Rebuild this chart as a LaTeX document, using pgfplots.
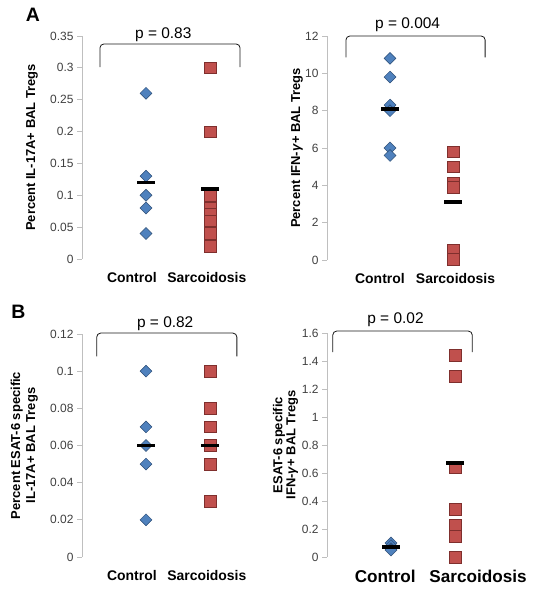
\documentclass[border=0pt]{standalone}
\usepackage{fontspec}
\setmainfont{Liberation Sans}
\usepackage{pgfplots}
\pgfplotsset{compat=1.18}
\definecolor{dblue}{HTML}{4F81BD}
\definecolor{dblueE}{HTML}{2C4D75}
\definecolor{dred}{HTML}{C0504D}
\definecolor{dredE}{HTML}{7F2F2D}
\definecolor{axgray}{HTML}{BFBFBF}
\definecolor{tickgray}{HTML}{404040}
\pgfplotsset{
  panel/.style={
    scale only axis, anchor=south west, clip=false,
    xmin=0, xmax=3, ymin=0,
    axis y line*=left,
    axis x line*=bottom,
    x axis line style={draw=none},
    y axis line style={-, draw=axgray, line width=0.7bp},
    xtick style={draw=none},
    ytick style={draw=axgray, line width=0.7bp},
    tick align=outside,
    major tick length=5bp,
    scaled y ticks=false,
    /pgf/number format/.cd, fixed, precision=3, assume math mode=true, /pgfplots/.cd,
    yticklabel style={font=\fontsize{12}{12}\selectfont, text=tickgray},
    xticklabel style={font=\bfseries\fontsize{14}{14}\selectfont, anchor=north, yshift=-4.5bp},
    every axis y label/.style={at={(axis description cs:-0.26,0.5)}, anchor=center, rotate=90,
      align=center, font=\bfseries\fontsize{13}{15}\selectfont},
  },
  ctrl/.style={only marks, mark=square*, mark size=4.2bp,
    mark options={rotate=45, fill=dblue, draw=dblueE, line width=0.5bp}},
  sarc/.style={only marks, mark=square*, mark size=5.8bp,
    mark options={fill=dred, draw=dredE, line width=0.5bp}},
  meanbar/.style={only marks, mark=-, mark size=8.7bp,
    mark options={line width=3.6bp, draw=black}},
}
\newcommand{\bracket}[4]{\draw[black!90, line width=0.8bp, rounded corners=4bp]
  (axis cs:#1,#4) -- (axis cs:#1,#3) -- (axis cs:#2,#3) -- (axis cs:#2,#4);}
\begin{document}
\begin{tikzpicture}[x=1bp,y=1bp]
\path[use as bounding box] (0,0) rectangle (534,601);
\node[font=\bfseries\fontsize{19.5}{20}\selectfont] at (33,586) {A};
\node[font=\bfseries\fontsize{19.5}{20}\selectfont] at (18.5,289.5) {B};

% A left
\begin{axis}[panel, at={(82bp,342bp)}, width=192bp, height=223bp, ymax=0.35,
  ytick={0,0.05,0.1,0.15,0.2,0.25,0.3,0.35},
  xtick={0.78,1.95}, xticklabels={Control,Sarcoidosis},
  ylabel={Percent IL-17A+ BAL Tregs}]
\addplot[ctrl] coordinates {(1,0.26) (1,0.13) (1,0.10) (1,0.08) (1,0.04)};
\addplot[sarc] coordinates {(2,0.30) (2,0.20) (2,0.10) (2,0.08) (2,0.07) (2,0.06) (2,0.04) (2,0.02)};
\addplot[meanbar] coordinates {(1,0.12) (2,0.11)};
\bracket{0.28}{2.47}{0.3375}{0.301}
\node[font=\fontsize{15.5}{16}\selectfont] at (axis cs:1.27,0.3527) {p = 0.83};
\end{axis}

% A right
\begin{axis}[panel, at={(327bp,341bp)}, width=189bp, height=224bp, ymax=12,
  ytick={0,2,4,6,8,10,12},
  xtick={0.84,2.04}, xticklabels={Control,Sarcoidosis},
  every axis y label/.append style={at={(axis description cs:-0.159,0.5)}},
  ylabel={Percent IFN-\textit{γ}+ BAL Tregs}]
\addplot[ctrl] coordinates {(1,10.8) (1,9.8) (1,8.3) (1,8.0) (1,6.0) (1,5.6)};
\addplot[sarc] coordinates {(2,5.8) (2,5.0) (2,4.1) (2,3.9) (2,0.55) (2,0.05)};
\addplot[meanbar] coordinates {(1,8.1) (2,3.1)};
\bracket{0.30}{2.51}{12.0}{10.86}
\node[font=\fontsize{15.5}{16}\selectfont] at (axis cs:1.28,12.59) {p = 0.004};
\end{axis}

% B left
\begin{axis}[panel, at={(82bp,44bp)}, width=192bp, height=223bp, ymax=0.12,
  ytick={0,0.02,0.04,0.06,0.08,0.1,0.12},
  xtick={0.78,1.95}, xticklabels={Control,Sarcoidosis},
  every axis y label/.append style={at={(axis description cs:-0.30,0.5)}},
  ylabel={Percent ESAT-6 specific\\IL-17A+ BAL Tregs}]
\addplot[ctrl] coordinates {(1,0.10) (1,0.07) (1,0.06) (1,0.05) (1,0.02)};
\addplot[sarc] coordinates {(2,0.10) (2,0.08) (2,0.07) (2,0.06) (2,0.05) (2,0.03)};
\addplot[meanbar] coordinates {(1,0.06) (2,0.06)};
\bracket{0.23}{2.42}{0.1205}{0.108}
\node[font=\fontsize{15.5}{16}\selectfont] at (axis cs:1.30,0.1258) {p = 0.82};
\end{axis}

% B right
\begin{axis}[panel, at={(327bp,44bp)}, width=192bp, height=224bp, ymax=1.6,
  ytick={0,0.2,0.4,0.6,0.8,1,1.2,1.4,1.6},
  xtick={0.91,2.36}, xticklabels={Control,Sarcoidosis},
  xticklabel style={font=\bfseries\fontsize{17.2}{17}\selectfont},
  every axis y label/.append style={at={(axis description cs:-0.216,0.5)}, font=\bfseries\fontsize{13}{13}\selectfont},
  ylabel={ESAT-6 specific\\IFN-\textit{γ}+ BAL Tregs}]
\addplot[ctrl] coordinates {(1,0.10) (1,0.08) (1,0.06) (1,0.05)};
\addplot[sarc] coordinates {(2,1.44) (2,1.29) (2,0.64) (2,0.34) (2,0.23) (2,0.15) (2,0.0)};
\addplot[meanbar] coordinates {(1,0.07) (2,0.67)};
\bracket{0.09}{2.27}{1.614}{1.464}
\node[font=\fontsize{15.5}{16}\selectfont] at (axis cs:1.07,1.693) {p = 0.02};
\end{axis}
\end{tikzpicture}
\end{document}
